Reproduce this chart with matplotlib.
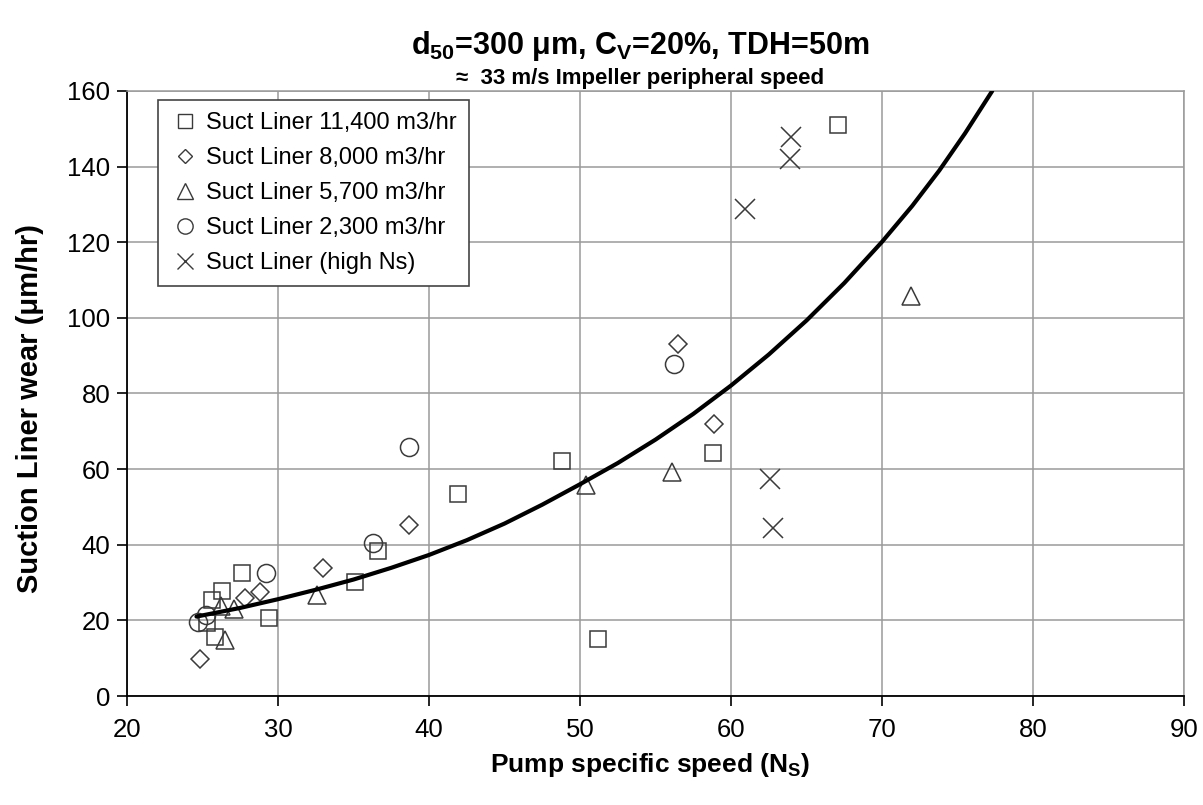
import matplotlib
matplotlib.use("Agg")
import matplotlib.pyplot as plt
from matplotlib.lines import Line2D

plt.rcParams['font.family'] = ['Liberation Sans', 'DejaVu Sans']
plt.rcParams['mathtext.fontset'] = 'custom'
plt.rcParams['mathtext.rm'] = 'Liberation Sans:bold'
plt.rcParams['mathtext.it'] = 'Liberation Sans:bold'
plt.rcParams['mathtext.bf'] = 'Liberation Sans:bold'
plt.rcParams['mathtext.default'] = 'rm'

# ---- data ----
sq_x = [67.1, 58.8, 48.8, 41.9, 36.6, 35.1, 51.2, 27.6, 26.3, 25.6, 29.4, 25.8, 25.3]
sq_y = [151.1, 64.2, 62.2, 53.4, 38.4, 30.2, 15.2, 32.6, 27.8, 25.4, 20.5, 15.7, 19.2]

di_x = [56.5, 58.9, 38.7, 33.0, 28.8, 27.8, 24.8]
di_y = [93.0, 71.9, 45.3, 33.9, 27.6, 25.8, 9.7]

tr_x = [71.9, 56.1, 50.4, 32.6, 27.1, 26.2, 26.5]
tr_y = [105.9, 59.3, 55.7, 26.7, 23.0, 23.8, 14.9]

ci_x = [38.7, 36.3, 56.2, 29.2, 24.7, 25.2]
ci_y = [65.9, 40.5, 87.9, 32.4, 19.6, 21.4]

cr_x = [64.0, 63.9, 60.9, 62.6, 62.8]
cr_y = [147.8, 142.0, 128.8, 57.3, 44.3]

trend_x = [24.6, 27.5, 30, 32.5, 35, 37.5, 40, 42.5, 45, 47.5, 50, 52.5, 55, 57.5, 60, 62.5,
           65, 67.5, 70, 72, 73.8, 75.5, 77.3]
trend_y = [21.0, 23.3, 25.6, 28.1, 30.8, 33.9, 37.3, 41.2, 45.6, 50.6, 56.0, 61.6, 67.8, 74.6,
           82.1, 90.3, 99.3, 109.2, 120.1, 129.6, 139.0, 148.8, 160.0]

labels = ["Suct Liner 11,400 m3/hr", "Suct Liner 8,000 m3/hr", "Suct Liner 5,700 m3/hr",
          "Suct Liner 2,300 m3/hr", "Suct Liner (high Ns)"]
x_ticks = [20, 30, 40, 50, 60, 70, 80, 90]
y_ticks = [0, 20, 40, 60, 80, 100, 120, 140, 160]

# ---- figure ----
fig = plt.figure(figsize=(12.03, 8.05), dpi=100)
ax = fig.add_axes([0.1056, 0.1354, 0.8786, 0.7516])

ec = '#3a3a3a'
mew = 1.1
ax.plot(sq_x, sq_y, ls='none', marker='s', ms=12, mfc='none', mec=ec, mew=mew, zorder=3)
ax.plot(di_x, di_y, ls='none', marker='D', ms=9, mfc='none', mec=ec, mew=mew, zorder=3)
ax.plot(tr_x, tr_y, ls='none', marker='^', ms=13, mfc='none', mec=ec, mew=mew, zorder=3)
ax.plot(ci_x, ci_y, ls='none', marker='o', ms=13, mfc='none', mec=ec, mew=mew, zorder=3)
ax.plot(cr_x, cr_y, ls='none', marker='x', ms=14, mfc='none', mec=ec, mew=mew, zorder=3)
ax.plot(trend_x, trend_y, color='black', lw=3.0, zorder=4, solid_capstyle='round',
        solid_joinstyle='round')

ax.set_xlim(20, 90)
ax.set_ylim(0, 160)
ax.set_xticks(x_ticks)
ax.set_yticks(y_ticks)
ax.grid(True, color='#9a9a9a', lw=1.1)
ax.set_axisbelow(True)
for s in ['top', 'right']:
    ax.spines[s].set_color('#9a9a9a')
    ax.spines[s].set_linewidth(1.1)
for s in ['left', 'bottom']:
    ax.spines[s].set_color('black')
    ax.spines[s].set_linewidth(1.3)
ax.tick_params(axis='both', direction='out', length=7, width=1.2, labelsize=18.5, colors='black')
ax.tick_params(axis='y', pad=5)
ax.tick_params(axis='x', pad=9)

ax.set_xlabel("Pump specific speed (N$_{\\mathrm{S}}$)", fontsize=19, fontweight='bold')
ax.xaxis.set_label_coords(0.495, -0.114)
ax.xaxis.label.set_va('center')
ax.set_ylabel("Suction Liner wear (\u03bcm/hr)", fontsize=21, fontweight='bold')
ax.yaxis.set_label_coords(-0.092, 0.475)
ax.yaxis.label.set_va('center')

fig.text(0.532, 0.943, "d$_{50}$=300 \u03bcm, C$_{V}$=20%, TDH=50m", ha='center', va='center',
         fontsize=22, fontweight='bold')
fig.text(0.532, 0.903, "\u2248  33 m/s Impeller peripheral speed", ha='center', va='center',
         fontsize=16, fontweight='bold')

markers = ['s', 'D', '^', 'o', 'x']
sizes = [10, 7.5, 11, 11, 12]
handles = [Line2D([], [], ls='none', marker=m, ms=sz, mfc='none', mec=ec, mew=1.0)
           for m, sz in zip(markers, sizes)]
leg = ax.legend(handles, labels, loc='upper left', bbox_to_anchor=(0.029, 0.985),
                borderaxespad=0, fontsize=17, frameon=True, fancybox=False,
                handlelength=1.35, handletextpad=0.2, labelspacing=0.55,
                borderpad=0.5, framealpha=1)
leg.get_frame().set_edgecolor('#444444')
leg.get_frame().set_linewidth(1.2)

fig.savefig("out.png", dpi=100)
